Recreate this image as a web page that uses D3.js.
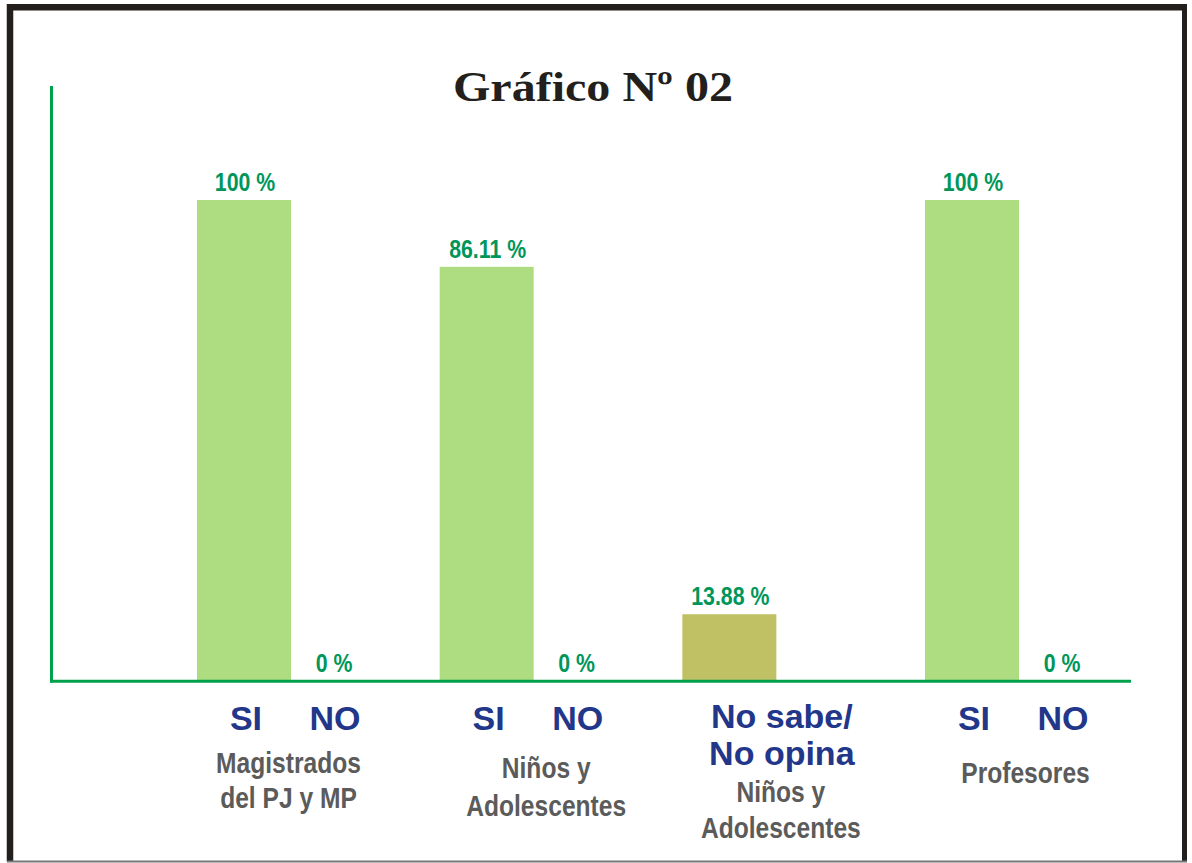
<!DOCTYPE html>
<html><head><meta charset="utf-8">
<script src="https://cdn.jsdelivr.net/npm/d3@7"></script>
<style>body{margin:0;background:#fff}svg{display:block}</style>
</head><body>
<script>
// ---- data ----
const groups = ["g1", "g2", "g3", "g4"];
const groupLabels = [["Magistrados", "del PJ y MP"], ["Niños y", "Adolescentes"], ["Niños y", "Adolescentes"], ["Profesores"]];
const barGroup = ["g1", "g1", "g2", "g2", "g3", "g4", "g4"];
const barAnswer = ["SI", "NO", "SI", "NO", "SI", "SI", "NO"];
const values = [100, 0, 86.11, 0, 13.88, 100, 0];
const valueLabels = ["100 %", "0 %", "86.11 %", "0 %", "13.88 %", "100 %", "0 %"];
const answerLabels = [["SI", "NO"], ["SI", "NO"], ["No sabe/", "No opina"], ["SI", "NO"]];
const title = "Gráfico Nº 02";

const W = 1192, H = 863;
const svg = d3.select("body").append("svg").attr("width", W).attr("height", H);

// frame
svg.append("line").attr("x1", 7).attr("x2", 1187).attr("y1", 7.3).attr("y2", 7.3).attr("stroke", "#231f1c").attr("stroke-width", 6.5);
svg.append("line").attr("x1", 10).attr("x2", 10).attr("y1", 4).attr("y2", 862).attr("stroke", "#231f1c").attr("stroke-width", 6.5);
svg.append("line").attr("x1", 1184.5).attr("x2", 1184.5).attr("y1", 4).attr("y2", 862).attr("stroke", "#231f1c").attr("stroke-width", 5);
svg.append("line").attr("x1", 7).attr("x2", 1187).attr("y1", 861.5).attr("y2", 861.5).attr("stroke", "#777").attr("stroke-width", 2);

// scales
const xG = d3.scalePoint().domain(groups).range([244, 972]);
const xIn = d3.scalePoint().domain(["SI", "NO"]).range([0, 89]);
const y = d3.scaleLinear().domain([0, 100]).range([681, 200]);
const barW = 94;
const mid = (xIn("SI") + xIn("NO")) / 2;
const NARROW = 0.82;

function narrowText(x, yy, t, size, fill) {
  return svg.append("text")
    .attr("transform", `translate(${x},${yy}) scale(${NARROW},1)`)
    .attr("text-anchor", "middle")
    .attr("font-family", "'Liberation Sans', Arial, sans-serif")
    .attr("font-weight", "bold").attr("font-size", size).attr("fill", fill).text(t);
}

// title
svg.append("text").attr("x", 593).attr("y", 101).attr("text-anchor", "middle")
  .attr("font-family", "'Liberation Serif', serif").attr("font-weight", "bold").attr("font-size", 42)
  .attr("fill", "#231f1c").attr("textLength", 280).attr("lengthAdjust", "spacingAndGlyphs").text(title);

// bars
const bars = values.map((v, i) => ({ v, g: barGroup[i], a: barAnswer[i], label: valueLabels[i] }));
svg.selectAll("rect.bar").data(bars).join("rect").attr("class", "bar")
  .attr("x", d => xG(d.g) + xIn(d.a) - barW / 2)
  .attr("width", barW)
  .attr("y", d => y(d.v))
  .attr("height", d => y(0) - y(d.v))
  .attr("fill", d => d.g === "g3" ? "#c0c165" : "#addd80");

// axes
svg.append("line").attr("x1", 51.5).attr("x2", 51.5).attr("y1", 86).attr("y2", 682.5).attr("stroke", "#00a14b").attr("stroke-width", 3);
svg.append("line").attr("x1", 50).attr("x2", 1131).attr("y1", 681.3).attr("y2", 681.3).attr("stroke", "#00a14b").attr("stroke-width", 3);

// value labels
bars.forEach(d => narrowText(xG(d.g) + xIn(d.a) + 1, y(d.v) - 9, d.label, 26, "#00965a"));

// answer labels
const blueFont = "'Liberation Sans', Arial, sans-serif";
groups.forEach((g, gi) => {
  const al = answerLabels[gi];
  if (g === "g3") {
    al.forEach((t, li) => {
      svg.append("text").attr("x", xG(g) + mid + 8).attr("y", 728 + li * 37).attr("text-anchor", "middle")
        .attr("font-family", blueFont).attr("font-weight", "bold").attr("font-size", 34).attr("fill", "#22368a").text(t);
    });
  } else {
    ["SI", "NO"].forEach((a, ai) => {
      svg.append("text").attr("x", xG(g) + xIn(a) + 2).attr("y", 730).attr("text-anchor", "middle")
        .attr("font-family", blueFont).attr("font-weight", "bold").attr("font-size", 34).attr("fill", "#22368a").text(al[ai]);
    });
  }
});

// group labels
const groupStart = { g1: 773, g2: 778, g3: 802, g4: 783 };
const groupLH = { g1: 35, g2: 38, g3: 36, g4: 36 };
const groupDx = { g1: 0, g2: 15, g3: 7, g4: 9 };
groups.forEach((g, gi) => {
  groupLabels[gi].forEach((t, li) => {
    narrowText(xG(g) + mid + groupDx[g], groupStart[g] + li * groupLH[g], t, 30, "#5b5b5b");
  });
});
</script>
</body></html>
